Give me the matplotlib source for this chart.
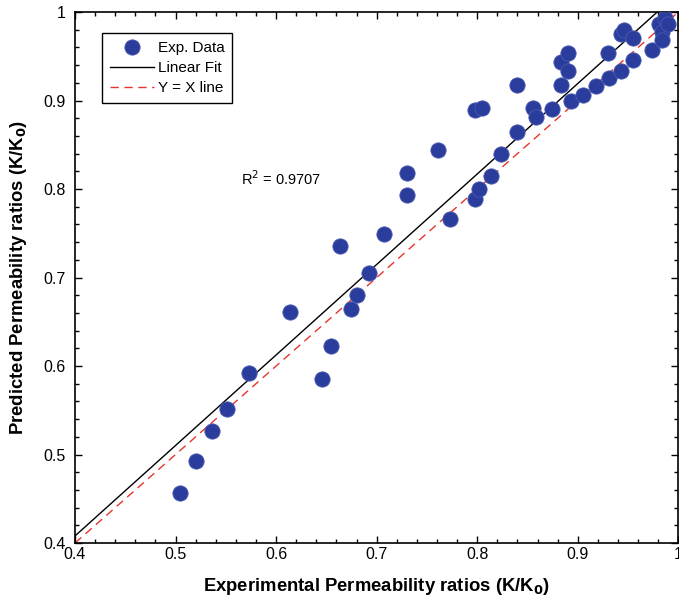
import matplotlib
matplotlib.use("Agg")
import matplotlib.pyplot as plt
from matplotlib.ticker import MultipleLocator, FormatStrFormatter
import numpy as np

# experimental vs predicted permeability ratios
exp_ratio = [0.504, 0.520, 0.536, 0.551, 0.573, 0.614, 0.646, 0.655, 0.664,
             0.674, 0.680, 0.692, 0.707, 0.730, 0.730, 0.761, 0.773, 0.798,
             0.805, 0.798, 0.802, 0.814, 0.824, 0.840, 0.840, 0.855, 0.858,
             0.874, 0.883, 0.890, 0.883, 0.890, 0.893, 0.905, 0.918, 0.930,
             0.931, 0.943, 0.943, 0.946, 0.955, 0.955, 0.974, 0.981, 0.984,
             0.984, 0.987, 0.990]
pred_ratio = [0.457, 0.493, 0.527, 0.551, 0.592, 0.661, 0.585, 0.623, 0.736,
              0.664, 0.680, 0.705, 0.749, 0.818, 0.793, 0.844, 0.766, 0.889,
              0.892, 0.789, 0.800, 0.815, 0.840, 0.865, 0.918, 0.892, 0.881,
              0.890, 0.943, 0.954, 0.918, 0.933, 0.899, 0.906, 0.917, 0.954,
              0.926, 0.933, 0.975, 0.980, 0.971, 0.946, 0.957, 0.986, 0.978,
              0.968, 0.993, 0.986]

# linear fit coefficients as shown in the plot
fit_slope = 1.0225
fit_intercept = -0.001
r_squared = "0.9707"

plt.rcParams['font.family'] = ['Liberation Sans', 'DejaVu Sans']

fig = plt.figure(figsize=(6.79, 6.03), dpi=100)
ax = fig.add_axes([0.1105, 0.0995, 0.8885, 0.8805])

xl = np.array([0.4, 1.0])
ax.plot(exp_ratio, pred_ratio, 'o', color='#2b3d9c', markeredgecolor='#4a5ab0',
        markeredgewidth=0.6, markersize=11, label='Exp. Data', zorder=3)
ax.plot(xl, fit_slope * xl + fit_intercept, '-', color='black', lw=1.0,
        label='Linear Fit', zorder=2)
ax.plot(xl, xl, '--', color='#e8342c', lw=1.0, dashes=(6, 4),
        label='Y = X line', zorder=2)

ax.text(0.565, 0.8045, r'R$^2$ = ' + r_squared, fontsize=10.5)

ax.set_xlim(0.4, 1.0)
ax.set_ylim(0.4, 1.0)
ax.xaxis.set_major_locator(MultipleLocator(0.1))
ax.yaxis.set_major_locator(MultipleLocator(0.1))
ax.xaxis.set_minor_locator(MultipleLocator(0.02))
ax.yaxis.set_minor_locator(MultipleLocator(0.02))
ax.xaxis.set_major_formatter(FormatStrFormatter('%g'))
ax.yaxis.set_major_formatter(FormatStrFormatter('%g'))
ax.tick_params(which='both', direction='in', top=True, right=True,
               labelsize=11.5, width=1.0)
ax.tick_params(which='major', length=5)
ax.tick_params(which='minor', length=3)
ax.tick_params(axis='y', pad=7)
ax.tick_params(axis='x', pad=3)
for s in ax.spines.values():
    s.set_linewidth(1.2)

ax.set_xlabel(r'Experimental Permeability ratios (K/K$_\mathbf{0}$)',
              fontsize=13.3, fontweight='bold', labelpad=10)
ax.set_ylabel(r'Predicted Permeability ratios (K/K$_\mathbf{0}$)',
              fontsize=13.3, fontweight='bold', labelpad=10)

leg = ax.legend(loc='upper left', bbox_to_anchor=(0.045, 0.96), fontsize=11,
                fancybox=False, framealpha=1, edgecolor='black',
                handlelength=2.9, handletextpad=0.25, borderpad=0.5,
                labelspacing=0.4, borderaxespad=0, numpoints=1)
leg.get_frame().set_linewidth(1.0)

fig.savefig('out.png', dpi=100)
